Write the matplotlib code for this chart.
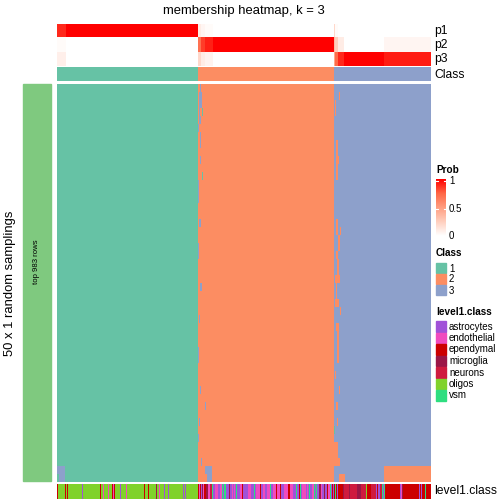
import matplotlib
matplotlib.use("Agg")
import matplotlib.pyplot as plt
import numpy as np
from matplotlib.colors import ListedColormap, LinearSegmentedColormap
from matplotlib.patches import Rectangle

plt.rcParams['font.family'] = ['Liberation Sans', 'DejaVu Sans']

W = H = 504.0

# ---- data -------------------------------------------------------------
class_names = ["1", "2", "3"]
class_colors = ["#66C2A5", "#FC8D62", "#8DA0CB"]
group_sizes = [141, 135, 97]          # columns in consensus class 1, 2, 3
n_rows = 50                           # 50 x 1 random samplings

# membership probabilities, run-length: (ncols, p1, p2, p3)
prob_runs = [
    (9, 0.90, 0.02, 0.08),
    (132, 1.00, 0.00, 0.00),
    (3, 0.10, 0.70, 0.20),
    (4, 0.05, 0.85, 0.10),
    (8, 0.02, 0.92, 0.06),
    (120, 0.00, 1.00, 0.00),
    (1, 0.20, 0.35, 0.45),
    (3, 0.02, 0.25, 0.73),
    (6, 0.00, 0.10, 0.90),
    (40, 0.00, 0.00, 1.00),
    (47, 0.00, 0.05, 0.93),
]

# samplings whose class differs from consensus: (row0, row1, col0, col1, class)
exceptions = [
    (48, 49, 0, 8, 3), (49, 50, 2, 8, 3),
    (0, 2, 143, 144, 3), (1, 3, 142, 145, 3), (3, 5, 142, 143, 3),
    (3, 4, 145, 146, 1), (4, 5, 143, 144, 3), (5, 6, 141, 142, 3),
    (6, 8, 143, 144, 3), (9, 10, 143, 144, 3), (11, 12, 145, 146, 1),
    (12, 15, 141, 142, 3), (17, 18, 142, 144, 3), (20, 22, 141, 142, 3),
    (25, 26, 143, 145, 3), (29, 30, 142, 143, 3), (33, 35, 141, 142, 3),
    (38, 39, 143, 144, 3), (40, 41, 148, 149, 3), (42, 43, 142, 143, 3),
    (44, 45, 141, 142, 3), (47, 48, 144, 145, 3),
    (48, 49, 148, 155, 3), (49, 50, 150, 155, 3),
    (1, 2, 281, 282, 2), (2, 4, 277, 278, 2), (7, 9, 278, 280, 2),
    (9, 10, 278, 281, 2), (10, 12, 278, 280, 2), (17, 19, 278, 280, 2),
    (18, 19, 282, 283, 2), (19, 21, 280, 282, 2), (21, 22, 278, 280, 2),
    (22, 24, 279, 281, 2), (24, 25, 277, 282, 2), (25, 27, 278, 279, 2),
    (27, 28, 277, 281, 2), (28, 29, 282, 283, 2), (30, 31, 278, 281, 2),
    (31, 35, 279, 281, 2), (36, 37, 277, 278, 2), (38, 39, 281, 282, 2),
    (40, 41, 278, 280, 2), (42, 43, 279, 280, 2), (43, 44, 276, 277, 1),
    (45, 48, 276, 280, 2), (47, 48, 279, 282, 2), (49, 50, 281, 287, 2),
    (48, 50, 326, 373, 2),
]

level1_names = ["astrocytes", "endothelial", "ependymal", "microglia",
                "neurons", "oligos", "vsm"]
level1_colors = ["#A052D8", "#F04BBE", "#CC0000", "#9B1747",
                 "#CF1B3F", "#80D22B", "#2EDE80"]
level1_codes = "ademnov"
# one letter per sample, left to right
level1_g1 = ("eoooooooeo" "eooooooooo" "oooooaoooo" "oooooooooo" "oooeoodooo"
             "odoooedeoo" "oooaoooood" "oooooooooo" "oooooooeoo" "oeooooooom"
             "oodooooaoo" "oaoooooooo" "ooooooaoao" "ooooooooooo")
level1_g2 = ("edeamdeemm" "ddnnvaaddd" "aaddvavvaa" "amaadadava" "aaddeaaaad"
             "ddaaavaddd" "deaaddaadd" "dvaadddedd" "deaaadddde" "edddaaavaa"
             "evaddddada" "vaaddvavaa" "mmdaamaaed" "dvaea")
level1_g3 = ("eveaeeeeem" "nnnnnmnnnn" "nnnmmmmnnn" "nnoeeeennn" "nnaeaannva"
             "veeeeeeeee" "eeeeeeadme" "eeeeeeeeee" "eeeeeaeaee" "eveeeee")

# ---- build matrices ---------------------------------------------------
n_cols = sum(group_sizes)
consensus = np.repeat([0, 1, 2], group_sizes)
memb = np.tile(consensus, (n_rows, 1))
for r0, r1, c0, c1, k in exceptions:
    memb[r0:r1, c0:c1] = k - 1

probs = np.zeros((3, n_cols))
c = 0
for n, p1, p2, p3 in prob_runs:
    probs[:, c:c + n] = np.array([p1, p2, p3])[:, None]
    c += n

level1 = np.array([level1_codes.index(ch) for ch in level1_g1 + level1_g2 + level1_g3])

# ---- drawing ----------------------------------------------------------
fig = plt.figure(figsize=(5.04, 5.04), dpi=100)


def ax_px(x0, y0, x1, y1):
    ax = fig.add_axes([x0 / W, 1 - y1 / H, (x1 - x0) / W, (y1 - y0) / H])
    ax.set_axis_off()
    return ax


def fx(x):
    return x / W


def fy(y):
    return 1 - y / H


prob_cmap = LinearSegmentedColormap.from_list(
    "prob", [(0, "#FFFFFF"), (0.25, "#FFCFBE"), (0.5, "#FF9E81"),
             (0.75, "#FF6746"), (1, "#FF0000")])
class_cmap = ListedColormap(class_colors)
level1_cmap = ListedColormap(level1_colors)

L, R = 57, 430

fig.text(fx(243.5), fy(11), "membership heatmap, k = 3", ha="center", va="center",
         fontsize=9.4)

ax = ax_px(L, 24, R, 66)
ax.imshow(probs, cmap=prob_cmap, vmin=0, vmax=1, aspect="auto", interpolation="nearest")
for i, lab in enumerate(["p1", "p2", "p3"]):
    fig.text(fx(434), fy(31 + 14 * i), lab, ha="left", va="center", fontsize=8.7)

ax = ax_px(L, 67, R, 81.5)
ax.imshow(consensus[None, :], cmap=class_cmap, vmin=-0.5, vmax=2.5, aspect="auto",
          interpolation="nearest")
fig.text(fx(434), fy(74.5), "Class", ha="left", va="center", fontsize=8.7)

ax = ax_px(L, 84, R, 482)
ax.imshow(memb, cmap=class_cmap, vmin=-0.5, vmax=2.5, aspect="auto",
          interpolation="nearest")

ax = ax_px(L, 483.5, R, 499)
ax.imshow(level1[None, :], cmap=level1_cmap, vmin=-0.5, vmax=len(level1_names) - 0.5,
          aspect="auto", interpolation="nearest")
fig.text(fx(434), fy(491.5), "level1.class", ha="left", va="center", fontsize=8.7)

# row slice annotation and titles
fig.patches.append(Rectangle((fx(23), fy(481)), fx(28), 397 / H, color="#7FC97F",
                             transform=fig.transFigure, figure=fig))
fig.text(fx(37), fy(262), "top 983 rows", rotation=90, ha="center", va="center",
         fontsize=5.6)
fig.text(fx(10), fy(283), "50 x 1 random samplings", rotation=90, ha="center",
         va="center", fontsize=9.4)

# ---- legends ----------------------------------------------------------
fs_t, fs_l = 7.2, 7.0
lx = 436
fig.text(fx(lx), fy(170), "Prob", fontweight="bold", fontsize=fs_t, va="center")
cax = ax_px(lx, 179, 446, 236)
cax.imshow(np.linspace(1, 0, 100)[:, None], cmap=prob_cmap, vmin=0, vmax=1,
           aspect="auto")
for v, lab in [(1, "1"), (0.5, "0.5"), (0, "0")]:
    yy = 236 - v * 55
    fig.text(fx(449), fy(yy), lab, fontsize=fs_l, va="center")
    for xa, xb in [(lx, lx + 2), (444, 446)]:
        fig.lines.append(plt.Line2D([fx(xa), fx(xb)], [fy(yy), fy(yy)], color="white",
                                    lw=0.8, transform=fig.transFigure))

fig.text(fx(lx), fy(253), "Class", fontweight="bold", fontsize=fs_t, va="center")
for i, (lab, col) in enumerate(zip(class_names, class_colors)):
    y0 = 263 + 11 * i
    fig.patches.append(Rectangle((fx(lx), fy(y0 + 10)), fx(10), 10 / H, color=col,
                                 transform=fig.transFigure, figure=fig))
    fig.text(fx(449), fy(y0 + 5.5), lab, fontsize=fs_l, va="center")

fig.text(fx(lx), fy(312), "level1.class", fontweight="bold", fontsize=fs_t, va="center")
for i, (lab, col) in enumerate(zip(level1_names, level1_colors)):
    y0 = 321 + 11.5 * i
    fig.patches.append(Rectangle((fx(lx), fy(y0 + 10.5)), fx(10), 10.5 / H, color=col,
                                 transform=fig.transFigure, figure=fig))
    fig.text(fx(449), fy(y0 + 5.5), lab, fontsize=fs_l, va="center")

fig.savefig("out.png", dpi=100)
